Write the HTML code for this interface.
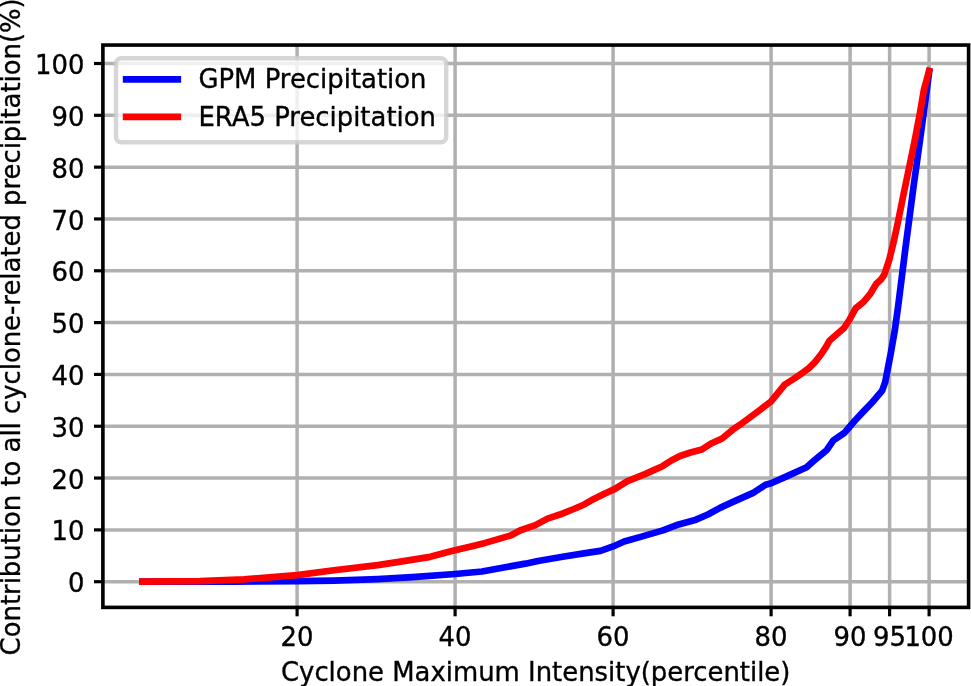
<!DOCTYPE html>
<html lang="en"><head><meta charset="utf-8"><title>Cyclone precipitation contribution</title>
<style>
html,body{margin:0;padding:0;background:#fff;}
svg{display:block;}
text{font-family:"DejaVu Sans","Liberation Sans",sans-serif;font-size:25.9px;fill:#000;stroke:#000;stroke-width:0.35px;}
</style></head><body>
<svg width="971" height="686" viewBox="0 0 971 686">
<rect width="971" height="686" fill="#fff"/>
<g stroke="#b0b0b0" stroke-width="3.5" fill="none">
<line x1="297.10" y1="45.05" x2="297.10" y2="607.4"/>
<line x1="455.10" y1="45.05" x2="455.10" y2="607.4"/>
<line x1="613.10" y1="45.05" x2="613.10" y2="607.4"/>
<line x1="771.10" y1="45.05" x2="771.10" y2="607.4"/>
<line x1="850.10" y1="45.05" x2="850.10" y2="607.4"/>
<line x1="889.60" y1="45.05" x2="889.60" y2="607.4"/>
<line x1="929.10" y1="45.05" x2="929.10" y2="607.4"/>
<line x1="102.9" y1="581.70" x2="968.6" y2="581.70"/>
<line x1="102.9" y1="529.88" x2="968.6" y2="529.88"/>
<line x1="102.9" y1="478.06" x2="968.6" y2="478.06"/>
<line x1="102.9" y1="426.24" x2="968.6" y2="426.24"/>
<line x1="102.9" y1="374.42" x2="968.6" y2="374.42"/>
<line x1="102.9" y1="322.60" x2="968.6" y2="322.60"/>
<line x1="102.9" y1="270.78" x2="968.6" y2="270.78"/>
<line x1="102.9" y1="218.96" x2="968.6" y2="218.96"/>
<line x1="102.9" y1="167.14" x2="968.6" y2="167.14"/>
<line x1="102.9" y1="115.32" x2="968.6" y2="115.32"/>
<line x1="102.9" y1="63.50" x2="968.6" y2="63.50"/>
</g>
<g fill="none" stroke-width="6.7" stroke-linejoin="round" stroke-linecap="butt">
<path stroke="#0000ff" d="M139.10,581.70 L233.90,581.54 L297.10,581.18 L333.91,580.66 L377.68,579.11 L412.44,577.14 L455.10,574.03 L481.96,571.49 L502.50,567.71 L525.41,563.67 L538.05,560.97 L564.12,556.57 L590.19,552.42 L600.46,550.87 L613.10,546.46 L624.16,541.54 L641.54,536.62 L662.87,530.40 L678.67,524.44 L696.05,519.67 L707.90,514.44 L720.54,507.60 L736.34,500.34 L753.72,492.57 L765.57,484.80 L771.10,483.24 L782.16,478.32 L793.22,473.40 L806.65,467.18 L814.63,460.08 L826.87,449.97 L833.51,440.23 L844.41,432.87 L850.10,426.24 L855.00,420.54 L863.77,411.16 L872.54,401.99 L882.17,390.59 L885.18,382.19 L887.62,369.76 L891.02,351.93 L894.89,329.85 L898.05,307.05 L905.40,248.50 L913.30,188.39 L921.20,131.38 L929.54,69.04"/>
<path stroke="#ff0000" d="M139.10,581.70 L199.93,581.18 L243.78,579.37 L297.10,575.12 L333.91,570.30 L377.68,565.12 L403.75,561.08 L430.22,556.83 L449.97,551.54 L455.10,550.30 L471.93,546.26 L485.12,542.89 L498.16,539.10 L511.19,535.27 L520.04,530.50 L528.81,527.44 L534.89,525.42 L547.53,518.64 L560.64,514.28 L573.76,509.00 L584.26,504.49 L591.30,500.29 L604.41,493.71 L615.00,488.89 L627.48,481.12 L645.02,474.07 L653.79,470.18 L662.55,466.19 L671.32,460.54 L680.01,456.04 L690.52,452.51 L701.90,449.46 L710.66,443.76 L722.12,438.52 L733.18,429.35 L741.87,423.39 L751.35,416.39 L760.04,409.92 L771.10,401.37 L784.53,384.78 L793.93,378.77 L802.70,372.66 L808.78,368.25 L814.95,362.14 L821.11,354.26 L826.32,346.39 L829.64,340.48 L843.78,328.30 L849.31,320.01 L855.63,308.35 L863.53,301.87 L870.48,293.58 L876.33,283.74 L880.91,279.59 L884.07,275.03 L885.57,270.78 L889.36,259.38 L893.63,241.92 L897.50,224.14 L903.43,194.81 L909.11,167.66 L914.88,139.78 L920.01,112.73 L923.89,89.93 L929.97,67.73"/>
</g>
<g stroke="#000" stroke-width="3.2" fill="none">
<line x1="297.10" y1="607.4" x2="297.10" y2="616.3"/>
<line x1="455.10" y1="607.4" x2="455.10" y2="616.3"/>
<line x1="613.10" y1="607.4" x2="613.10" y2="616.3"/>
<line x1="771.10" y1="607.4" x2="771.10" y2="616.3"/>
<line x1="850.10" y1="607.4" x2="850.10" y2="616.3"/>
<line x1="889.60" y1="607.4" x2="889.60" y2="616.3"/>
<line x1="929.10" y1="607.4" x2="929.10" y2="616.3"/>
<line x1="102.9" y1="581.70" x2="94" y2="581.70"/>
<line x1="102.9" y1="529.88" x2="94" y2="529.88"/>
<line x1="102.9" y1="478.06" x2="94" y2="478.06"/>
<line x1="102.9" y1="426.24" x2="94" y2="426.24"/>
<line x1="102.9" y1="374.42" x2="94" y2="374.42"/>
<line x1="102.9" y1="322.60" x2="94" y2="322.60"/>
<line x1="102.9" y1="270.78" x2="94" y2="270.78"/>
<line x1="102.9" y1="218.96" x2="94" y2="218.96"/>
<line x1="102.9" y1="167.14" x2="94" y2="167.14"/>
<line x1="102.9" y1="115.32" x2="94" y2="115.32"/>
<line x1="102.9" y1="63.50" x2="94" y2="63.50"/>
</g>
<rect x="102.9" y="45.05" width="865.70" height="562.35" fill="none" stroke="#000" stroke-width="3.6" stroke-linejoin="miter"/>
<g text-anchor="middle">
<text x="297.10" y="646.4">20</text>
<text x="455.10" y="646.4">40</text>
<text x="613.10" y="646.4">60</text>
<text x="771.10" y="646.4">80</text>
<text x="850.10" y="646.4">90</text>
<text x="889.60" y="646.4">95</text>
<text x="929.10" y="646.4">100</text>
</g><g text-anchor="end">
<text x="84.5" y="592.30">0</text>
<text x="84.5" y="540.48">10</text>
<text x="84.5" y="488.66">20</text>
<text x="84.5" y="436.84">30</text>
<text x="84.5" y="385.02">40</text>
<text x="84.5" y="333.20">50</text>
<text x="84.5" y="281.38">60</text>
<text x="84.5" y="229.56">70</text>
<text x="84.5" y="177.74">80</text>
<text x="84.5" y="125.92">90</text>
<text x="84.5" y="74.10">100</text>
</g>
<text x="535.7" y="680.8" text-anchor="middle">Cyclone Maximum Intensity(percentile)</text>
<text transform="translate(19.8,655.4) rotate(-90)" text-anchor="start" letter-spacing="-0.016">Contribution to all cyclone-related precipitation(%)</text>
<rect x="116" y="58.3" width="330.2" height="84" rx="5.2" ry="5.2" fill="#fff" fill-opacity="0.8" stroke="#ccc" stroke-opacity="0.8" stroke-width="4.4"/>
<line x1="122.8" y1="79.3" x2="181.1" y2="79.3" stroke="#0000ff" stroke-width="6.7"/>
<line x1="122.8" y1="116.8" x2="181.1" y2="116.8" stroke="#ff0000" stroke-width="6.7"/>
<text x="198.45" y="88.2">GPM Precipitation</text>
<text x="198.45" y="126.3">ERA5 Precipitation</text>
</svg>
</body></html>
